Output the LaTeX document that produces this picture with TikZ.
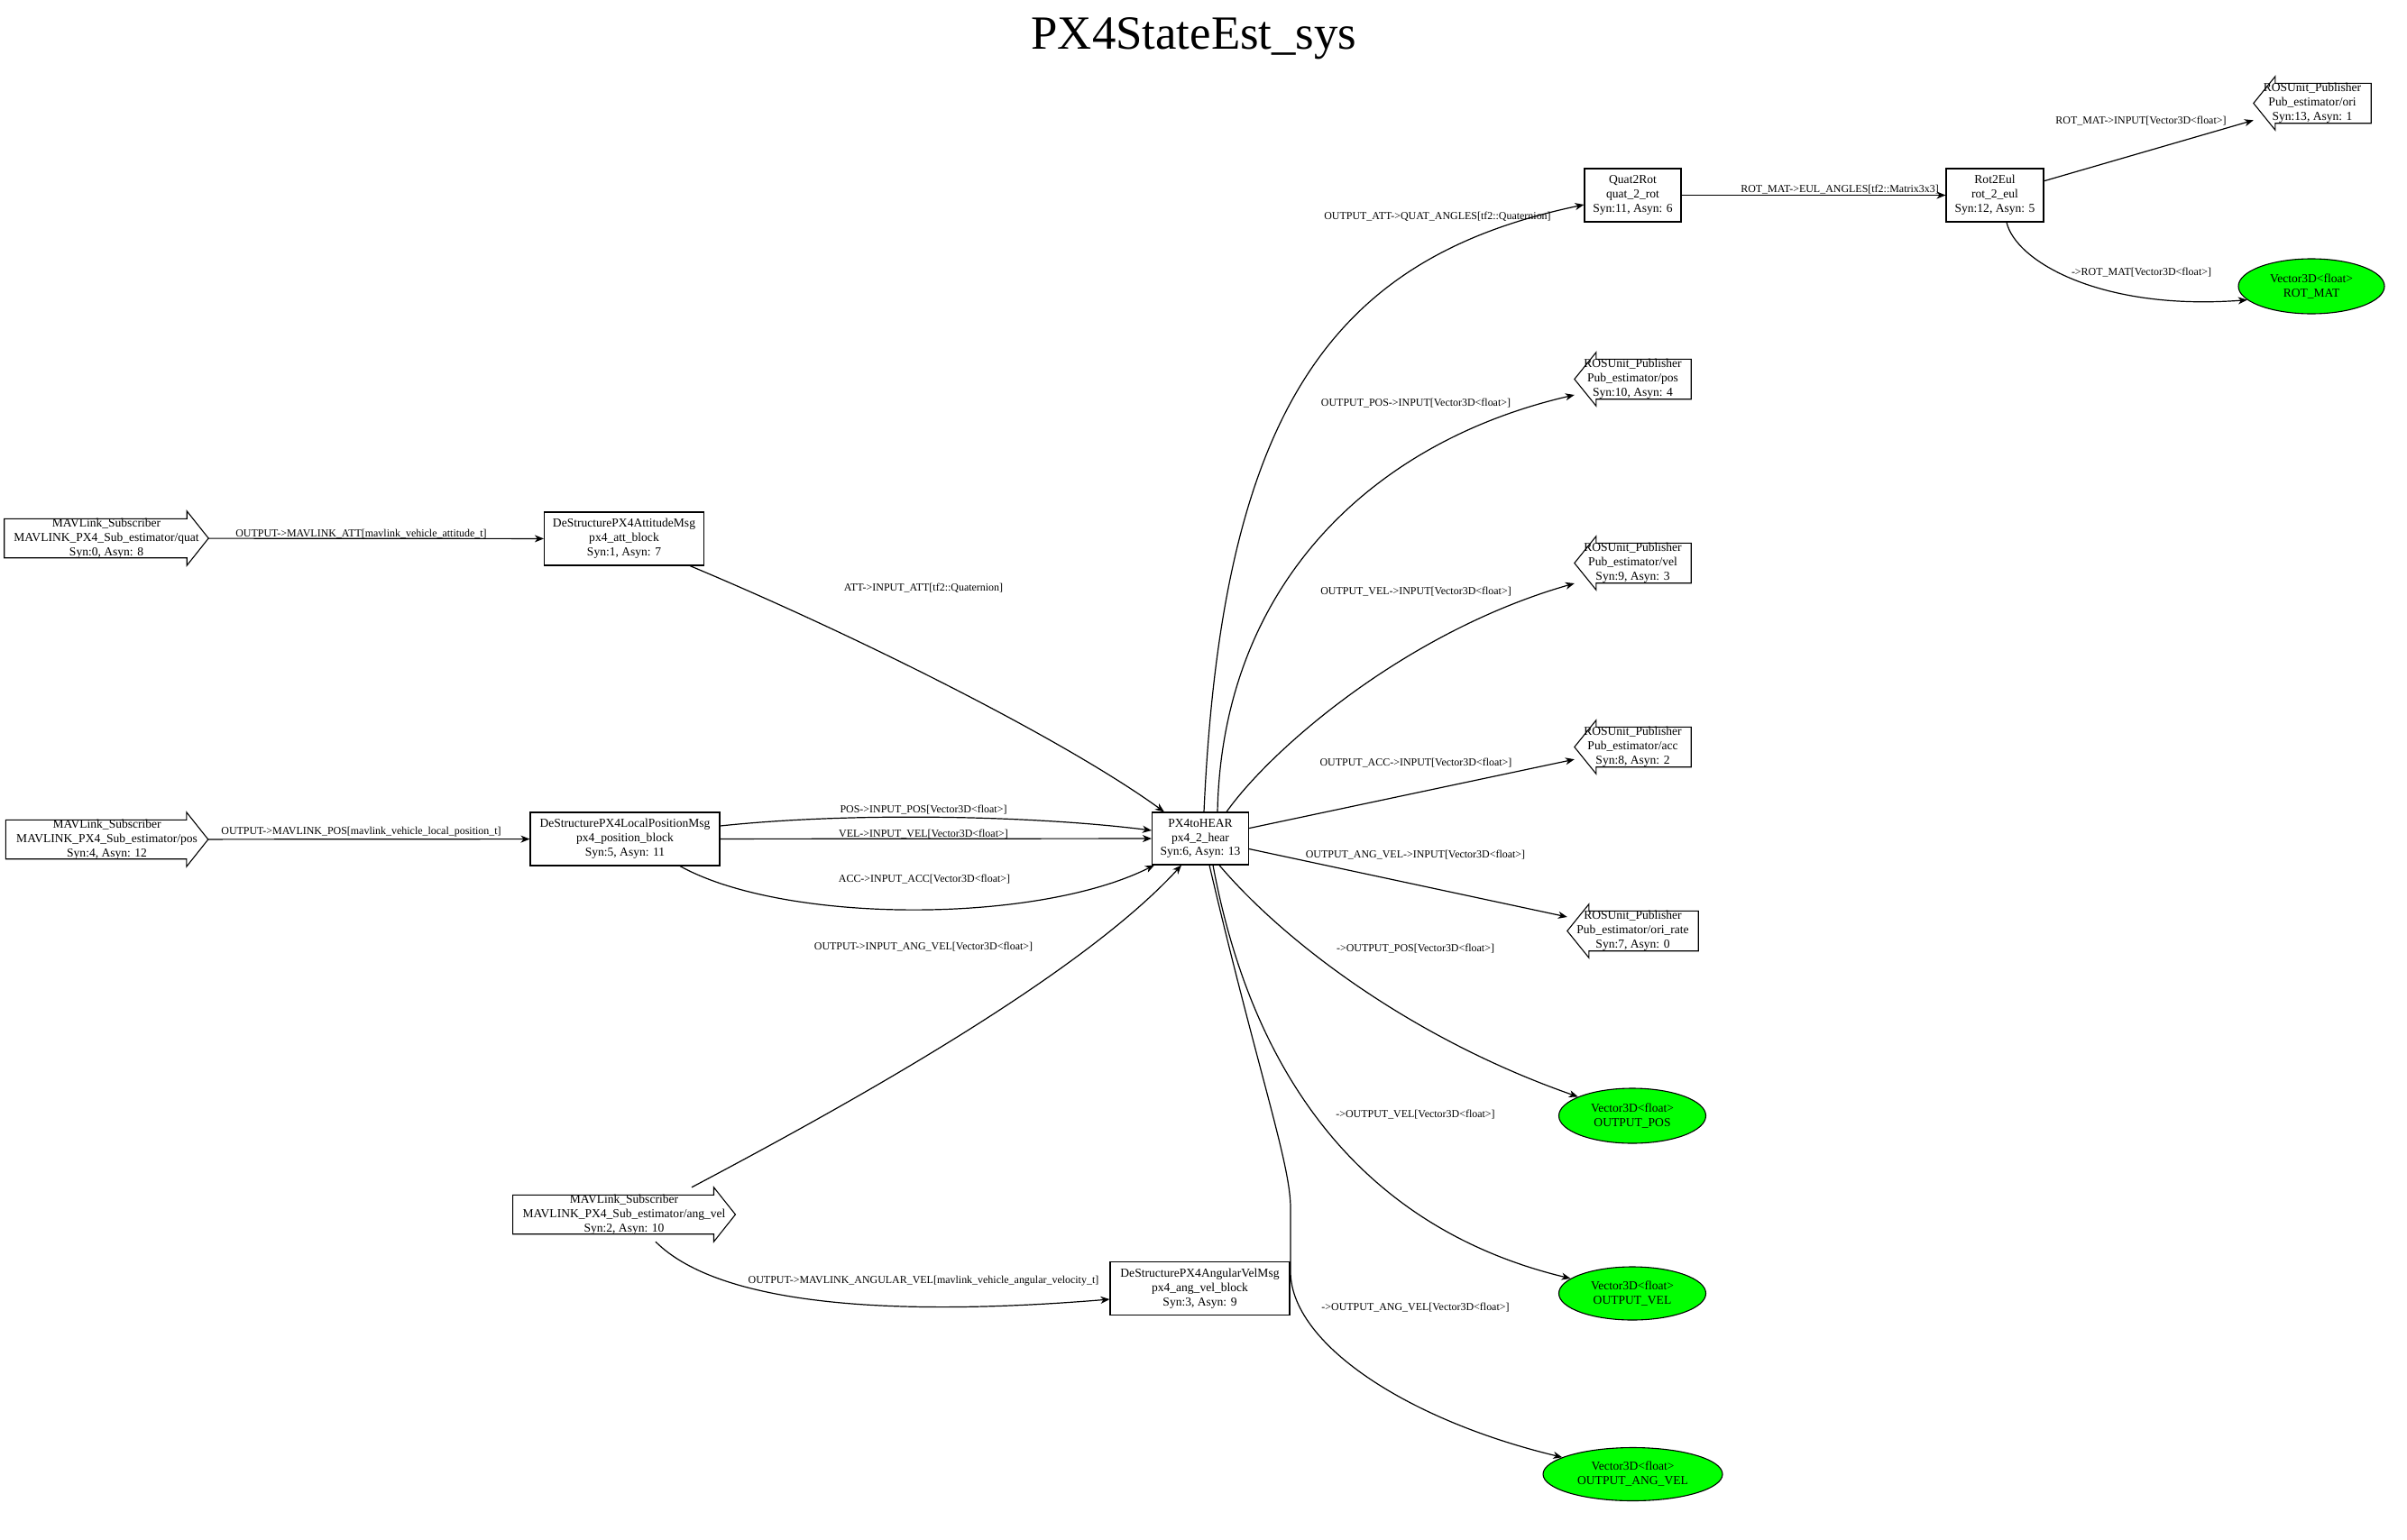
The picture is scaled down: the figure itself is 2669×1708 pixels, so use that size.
\documentclass[tikz,border=0pt]{standalone}
\usepackage{fontspec}
\setmainfont{Liberation Serif}
\usetikzlibrary{shapes.geometric, arrows.meta}

\definecolor{outgreen}{RGB}{0,255,0}
\newcommand{\nodefont}{\fontsize{13.6}{16}\selectfont}
\newcommand{\lblfont}{\fontsize{12}{14}\selectfont}

% outline of a subscriber (arrow to the right) and a publisher (arrow to the left)
\newcommand{\subshape}[1]{\draw[line width=1.1bp] ([yshift=-8.5bp]#1.north west) -- ([xshift=-24bp,yshift=-8.5bp]#1.north east) -- ([xshift=-24bp]#1.north east) -- (#1.east) -- ([xshift=-24bp]#1.south east) -- ([xshift=-24bp,yshift=8.5bp]#1.south east) -- ([yshift=8.5bp]#1.south west) -- cycle;}
\newcommand{\pubshape}[1]{\draw[line width=1.1bp] ([xshift=24bp,yshift=-7.5bp]#1.north west) -- ([yshift=-7.5bp]#1.north east) -- ([yshift=7.5bp]#1.south east) -- ([xshift=24bp,yshift=7.5bp]#1.south west) -- ([xshift=24bp]#1.south west) -- (#1.west) -- ([xshift=24bp]#1.north west) -- cycle;}

\tikzset{
  blk/.style={rectangle, draw=black, line width=1.1bp, inner sep=0pt, align=center, font=\nodefont},
  sub/.style={rectangle, inner sep=0pt, minimum height=60bp, align=center, font=\nodefont},
  pub/.style={rectangle, inner sep=0pt, minimum height=59bp, align=center, font=\nodefont},
  outp/.style={ellipse, draw=black, line width=1.1bp, fill=outgreen, inner sep=0pt, minimum height=61bp, align=center, font=\nodefont},
  lbl/.style={inner sep=0pt, font=\lblfont},
  edge/.style={-{Stealth[length=10bp,width=8bp,inset=3bp]}, line width=1.2bp},
}

\begin{document}
\begin{tikzpicture}[x=1bp, y=-1bp]
    \path[use as bounding box, fill=white] (0,0) rectangle (2669,1708);

    \node[inner sep=0pt, font=\fontsize{53}{60}\selectfont] (title) at (1324,43) {PX4StateEst\_sys};

    % subscribers
    \node[sub, minimum width=226bp] (subq) at (118,597) {MAVLink\_Subscriber\\MAVLINK\_PX4\_Sub\_estimator/quat\\Syn:0, Asyn: 8};
    \node[sub, minimum width=224bp] (subp) at (118.6,931) {MAVLink\_Subscriber\\MAVLINK\_PX4\_Sub\_estimator/pos\\Syn:4, Asyn: 12};
    \node[sub, minimum width=246.5bp] (subav) at (692,1347) {MAVLink\_Subscriber\\MAVLINK\_PX4\_Sub\_estimator/ang\_vel\\Syn:2, Asyn: 10};
    \subshape{subq}
    \subshape{subp}
    \subshape{subav}

    % blocks
    \node[blk, minimum width=177bp, minimum height=59bp] (att) at (692,597.5) {DeStructurePX4AttitudeMsg\\px4\_att\_block\\Syn:1, Asyn: 7};
    \node[blk, minimum width=210bp, minimum height=59bp] (pos) at (693,930.5) {DeStructurePX4LocalPositionMsg\\px4\_position\_block\\Syn:5, Asyn: 11};
    \node[blk, minimum width=199bp, minimum height=59bp] (angvel) at (1330.5,1429) {DeStructurePX4AngularVelMsg\\px4\_ang\_vel\_block\\Syn:3, Asyn: 9};
    \node[blk, minimum width=107bp, minimum height=58bp] (px4) at (1331,930) {PX4toHEAR\\px4\_2\_hear\\Syn:6, Asyn: 13};
    \node[blk, minimum width=107bp, minimum height=59bp] (quat) at (1810.5,216.5) {Quat2Rot\\quat\_2\_rot\\Syn:11, Asyn: 6};
    \node[blk, minimum width=108bp, minimum height=59bp] (roteul) at (2212,216.5) {Rot2Eul\\rot\_2\_eul\\Syn:12, Asyn: 5};

    % publishers
    \node[pub, minimum width=130bp] (rosori) at (2564,114.5) {ROSUnit\_Publisher\\Pub\_estimator/ori\\Syn:13, Asyn: 1};
    \node[pub, minimum width=129bp] (rospos) at (1810.5,420.5) {ROSUnit\_Publisher\\Pub\_estimator/pos\\Syn:10, Asyn: 4};
    \node[pub, minimum width=129bp] (rosvel) at (1810.5,624.5) {ROSUnit\_Publisher\\Pub\_estimator/vel\\Syn:9, Asyn: 3};
    \node[pub, minimum width=129bp] (rosacc) at (1810.5,828.5) {ROSUnit\_Publisher\\Pub\_estimator/acc\\Syn:8, Asyn: 2};
    \node[pub, minimum width=145bp] (rosrate) at (1810.5,1032.5) {ROSUnit\_Publisher\\Pub\_estimator/ori\_rate\\Syn:7, Asyn: 0};
    \pubshape{rosori}
    \pubshape{rospos}
    \pubshape{rosvel}
    \pubshape{rosacc}
    \pubshape{rosrate}

    % outputs
    \node[outp, minimum width=162bp] (rotmat) at (2563,317.5) {Vector3D<float>\\ROT\_MAT};
    \node[outp, minimum width=163bp] (outpos) at (1810,1237.5) {Vector3D<float>\\OUTPUT\_POS};
    \node[outp, minimum width=163bp, minimum height=59bp] (outvel) at (1810,1434.5) {Vector3D<float>\\OUTPUT\_VEL};
    \node[outp, minimum width=199bp, minimum height=59bp] (outangvel) at (1810.5,1635) {Vector3D<float>\\OUTPUT\_ANG\_VEL};

    % connectors
    \draw[edge] (subq) -- (att);
    \draw[edge] (subp) -- (pos);
    \draw[edge] ([xshift=-16bp]att.south east) .. controls (950,705) and (1180,820) .. ([xshift=14bp]px4.north west);
    \draw[edge] ([yshift=14.5bp]pos.east) .. controls (950,900) and (1150,905) .. ([yshift=9bp]px4.west);
    \draw[edge] (pos) -- (px4);
    \draw[edge] ([xshift=61bp]pos.south) .. controls (870,1025) and (1150,1025) .. ([xshift=3bp]px4.south west);
    \draw[edge] ([xshift=75bp]subav.north) .. controls (950,1220) and (1200,1080) .. ([xshift=-21bp]px4.south);
    \draw[edge] ([xshift=35bp]subav.south) .. controls (800,1450) and (1000,1460) .. ([yshift=-12bp]angvel.west);
    \draw[edge] ([xshift=4bp]px4.north) .. controls (1355,450) and (1480,285) .. ([yshift=-10.5bp]quat.west);
    \draw[edge] ([xshift=19bp]px4.north) .. controls (1355,650) and (1520,490) .. ([yshift=-17.5bp]rospos.west);
    \draw[edge] ([xshift=29bp]px4.north) .. controls (1410,830) and (1560,700) .. ([yshift=-22.5bp]rosvel.west);
    \draw[edge] (px4) -- (rosacc);
    \draw[edge] (px4) -- (rosrate);
    \draw[edge] ([xshift=21bp]px4.south) .. controls (1420,1040) and (1560,1150) .. (outpos);
    \draw[edge] ([xshift=14bp]px4.south) .. controls (1375,1120) and (1460,1350) .. (outvel);
    \draw[edge] ([xshift=10bp]px4.south) .. controls (1395,1190) and (1431,1290) .. (1431,1340) -- (1431,1410) .. controls (1431,1490) and (1560,1575) .. (outangvel);
    \draw[edge] (quat) -- (roteul);
    \draw[edge] (roteul) -- (rosori);
    \draw[edge] ([xshift=13bp]roteul.south) .. controls (2235,290) and (2330,345) .. (rotmat.192);

    % connector labels
    \node[lbl] (lsubq) at (400.5,592) {OUTPUT->MAVLINK\_ATT[mavlink\_vehicle\_attitude\_t]};
    \node[lbl] (lsubp) at (400.5,923) {OUTPUT->MAVLINK\_POS[mavlink\_vehicle\_local\_position\_t]};
    \node[lbl] (latt) at (1024,652) {ATT->INPUT\_ATT[tf2::Quaternion]};
    \node[lbl] (lpos) at (1024,898) {POS->INPUT\_POS[Vector3D<float>]};
    \node[lbl] (lvel) at (1024,925) {VEL->INPUT\_VEL[Vector3D<float>]};
    \node[lbl] (lacc) at (1025,975) {ACC->INPUT\_ACC[Vector3D<float>]};
    \node[lbl] (lavin) at (1024,1050) {OUTPUT->INPUT\_ANG\_VEL[Vector3D<float>]};
    \node[lbl] (lavmsg) at (1024,1421) {OUTPUT->MAVLINK\_ANGULAR\_VEL[mavlink\_vehicle\_angular\_velocity\_t]};
    \node[lbl] (lquat) at (1594,240) {OUTPUT\_ATT->QUAT\_ANGLES[tf2::Quaternion]};
    \node[lbl] (leul) at (2040,210) {ROT\_MAT->EUL\_ANGLES[tf2::Matrix3x3]};
    \node[lbl] (lori) at (2374,134) {ROT\_MAT->INPUT[Vector3D<float>]};
    \node[lbl] (lrotmat) at (2374.5,302) {->ROT\_MAT[Vector3D<float>]};
    \node[lbl] (lopos) at (1570,447) {OUTPUT\_POS->INPUT[Vector3D<float>]};
    \node[lbl] (lovel) at (1570,656) {OUTPUT\_VEL->INPUT[Vector3D<float>]};
    \node[lbl] (loacc) at (1570,846) {OUTPUT\_ACC->INPUT[Vector3D<float>]};
    \node[lbl] (loav) at (1569.5,948) {OUTPUT\_ANG\_VEL->INPUT[Vector3D<float>]};
    \node[lbl] (lxpos) at (1569.5,1052) {->OUTPUT\_POS[Vector3D<float>]};
    \node[lbl] (lxvel) at (1569.5,1236) {->OUTPUT\_VEL[Vector3D<float>]};
    \node[lbl] (lxav) at (1569.5,1450) {->OUTPUT\_ANG\_VEL[Vector3D<float>]};
\end{tikzpicture}
\end{document}
